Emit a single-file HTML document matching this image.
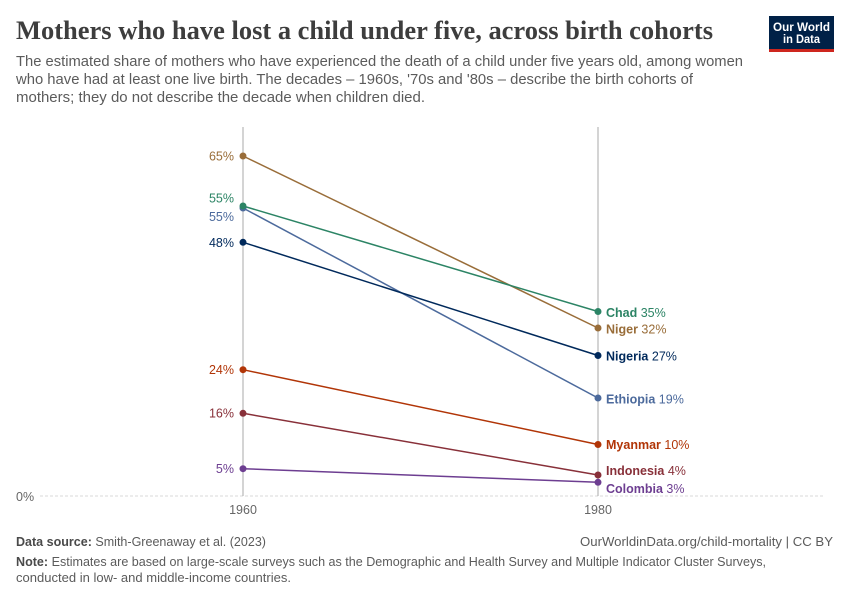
<!DOCTYPE html>
<html>
<head>
<meta charset="utf-8">
<style>
  html, body { margin:0; padding:0; background:#fff; }
  svg { display:block; }
  text { font-family: "Liberation Sans", sans-serif; }
</style>
</head>
<body>
<svg width="850" height="600" viewBox="0 0 850 600" xmlns="http://www.w3.org/2000/svg">
  <rect width="850" height="600" fill="#fff"/>

  <!-- Title -->
  <text x="16" y="39" font-weight="bold" font-size="26" fill="#3d3d3d" textLength="697" lengthAdjust="spacingAndGlyphs" style="font-family:'Liberation Serif',serif">Mothers who have lost a child under five, across birth cohorts</text>

  <!-- Subtitle -->
  <g font-size="14.5" fill="#5b5b5b">
    <text x="16" y="66" textLength="727" lengthAdjust="spacingAndGlyphs">The estimated share of mothers who have experienced the death of a child under five years old, among women</text>
    <text x="16" y="84" textLength="677" lengthAdjust="spacingAndGlyphs">who have had at least one live birth. The decades – 1960s, '70s and '80s – describe the birth cohorts of</text>
    <text x="16" y="102" textLength="409" lengthAdjust="spacingAndGlyphs">mothers; they do not describe the decade when children died.</text>
  </g>

  <!-- Logo -->
  <rect x="769" y="16" width="65" height="36" fill="#002147"/>
  <rect x="769" y="49" width="65" height="3" fill="#ce261e"/>
  <text x="773" y="31" font-size="12" font-weight="bold" fill="#fff" textLength="57" lengthAdjust="spacingAndGlyphs">Our World</text>
  <text x="783" y="43" font-size="12" font-weight="bold" fill="#fff" textLength="37" lengthAdjust="spacingAndGlyphs">in Data</text>

  <!-- Baseline -->
  <line x1="40" y1="496" x2="823" y2="496" stroke="#d8d8d8" stroke-width="1" stroke-dasharray="3,2"/>
  <text x="16" y="501" font-size="12.5" fill="#666">0%</text>

  <!-- Vertical axes -->
  <line x1="243" y1="127" x2="243" y2="496" stroke="#a8a8a8" stroke-width="1"/>
  <line x1="598" y1="127" x2="598" y2="496" stroke="#a8a8a8" stroke-width="1"/>
  <text x="243" y="514" font-size="12.5" fill="#666" text-anchor="middle">1960</text>
  <text x="598" y="514" font-size="12.5" fill="#666" text-anchor="middle">1980</text>

  <!-- Series lines -->
  <g stroke-width="1.5" fill="none">
    <line x1="243" y1="156" x2="598" y2="328" stroke="#996D39"/>
    <line x1="243" y1="208" x2="598" y2="398" stroke="#4C6A9C"/>
    <line x1="243" y1="206" x2="598" y2="311.5" stroke="#2C8465"/>
    <line x1="243" y1="242.3" x2="598" y2="355.5" stroke="#00295B"/>
    <line x1="243" y1="369.7" x2="598" y2="444.5" stroke="#B13507"/>
    <line x1="243" y1="413.3" x2="598" y2="475" stroke="#883039"/>
    <line x1="243" y1="468.7" x2="598" y2="482.3" stroke="#6D3E91"/>
  </g>

  <!-- Dots -->
  <g>
    <circle cx="243" cy="156" r="3.5" fill="#996D39"/>
    <circle cx="598" cy="328" r="3.5" fill="#996D39"/>
    <circle cx="243" cy="208" r="3.5" fill="#4C6A9C"/>
    <circle cx="598" cy="398" r="3.5" fill="#4C6A9C"/>
    <circle cx="243" cy="206" r="3.5" fill="#2C8465"/>
    <circle cx="598" cy="311.5" r="3.5" fill="#2C8465"/>
    <circle cx="243" cy="242.3" r="3.5" fill="#00295B"/>
    <circle cx="598" cy="355.5" r="3.5" fill="#00295B"/>
    <circle cx="243" cy="369.7" r="3.5" fill="#B13507"/>
    <circle cx="598" cy="444.5" r="3.5" fill="#B13507"/>
    <circle cx="243" cy="413.3" r="3.5" fill="#883039"/>
    <circle cx="598" cy="475" r="3.5" fill="#883039"/>
    <circle cx="243" cy="468.7" r="3.5" fill="#6D3E91"/>
    <circle cx="598" cy="482.3" r="3.5" fill="#6D3E91"/>
  </g>

  <!-- Left value labels -->
  <g font-size="12.5" text-anchor="end">
    <text x="234" y="160.5" fill="#996D39">65%</text>
    <text x="234" y="202.5" fill="#2C8465">55%</text>
    <text x="234" y="221" fill="#4C6A9C">55%</text>
    <text x="234" y="246.8" fill="#00295B">48%</text>
    <text x="234" y="374.2" fill="#B13507">24%</text>
    <text x="234" y="417.7" fill="#883039">16%</text>
    <text x="234" y="473.2" fill="#6D3E91">5%</text>
  </g>

  <!-- Right labels -->
  <g font-size="12.5">
    <text x="606" y="316.8" fill="#2C8465"><tspan font-weight="bold">Chad</tspan> 35%</text>
    <text x="606" y="333.5" fill="#996D39"><tspan font-weight="bold">Niger</tspan> 32%</text>
    <text x="606" y="360.5" fill="#00295B"><tspan font-weight="bold">Nigeria</tspan> 27%</text>
    <text x="606" y="403.5" fill="#4C6A9C"><tspan font-weight="bold">Ethiopia</tspan> 19%</text>
    <text x="606" y="449.2" fill="#B13507"><tspan font-weight="bold">Myanmar</tspan> 10%</text>
    <text x="606" y="475.2" fill="#883039"><tspan font-weight="bold">Indonesia</tspan> 4%</text>
    <text x="606" y="493.2" fill="#6D3E91"><tspan font-weight="bold">Colombia</tspan> 3%</text>
  </g>

  <!-- Footer -->
  <g font-size="12.5" fill="#5b5b5b">
    <text x="16" y="546" textLength="250" lengthAdjust="spacingAndGlyphs"><tspan font-weight="bold" fill="#4a4a4a">Data source:</tspan> Smith-Greenaway et al. (2023)</text>
    <text x="580" y="546" textLength="253" lengthAdjust="spacingAndGlyphs">OurWorldinData.org/child-mortality | CC BY</text>
    <text x="16" y="566" textLength="750" lengthAdjust="spacingAndGlyphs"><tspan font-weight="bold" fill="#4a4a4a">Note:</tspan> Estimates are based on large-scale surveys such as the Demographic and Health Survey and Multiple Indicator Cluster Surveys,</text>
    <text x="16" y="582" textLength="275" lengthAdjust="spacingAndGlyphs">conducted in low- and middle-income countries.</text>
  </g>
</svg>
</body>
</html>
